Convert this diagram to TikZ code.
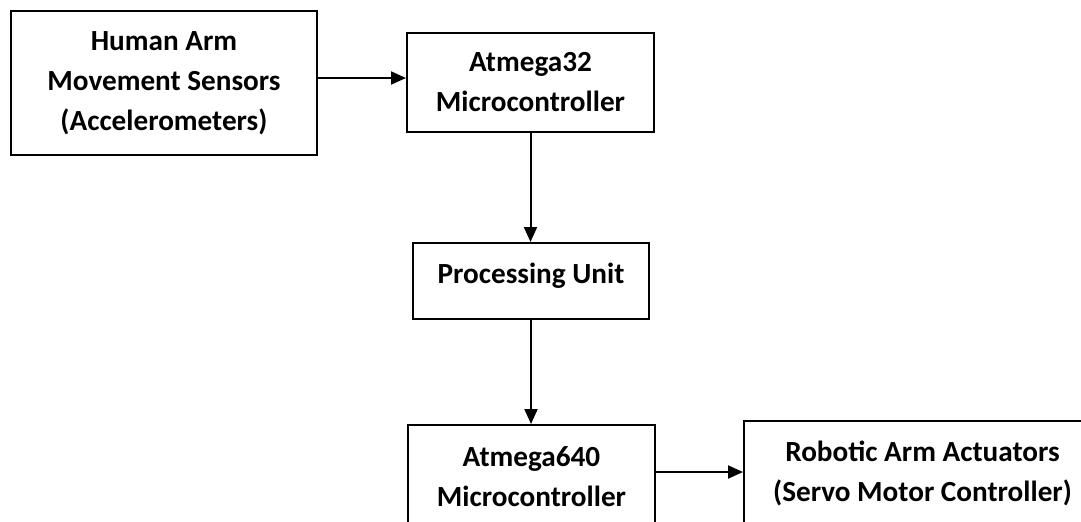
\documentclass[tikz,border=0pt]{standalone}
\usepackage{fontspec}
\setmainfont{Carlito}
\usetikzlibrary{arrows.meta,positioning,calc}

\begin{document}
\begin{tikzpicture}[x=0.5pt,y=-0.5pt,
    blk/.style={draw,line width=1pt,anchor=north west,align=center,
      font=\fontsize{14.6}{20}\selectfont\bfseries,inner sep=0pt},
    arr/.style={-{Triangle[length=7.5pt,width=6.5pt]},line width=1pt}]
     \useasboundingbox (0,0) rectangle (1081,521);
     \clip (0,0) rectangle (1081,521);

     \node[blk,minimum width=153pt,minimum height=72pt] (sens) at (10,10)
        {Human Arm\\Movement Sensors\\(Accelerometers)};
     \node[blk,minimum width=123.5pt,minimum height=49.5pt] (mcu32) at (406,32)
        {Atmega32\\Microcontroller};
     \node[blk,minimum width=118pt,minimum height=38pt,text depth=8pt] (proc) at (412,242)
        {Processing Unit};
     \node[blk,minimum width=123.5pt,minimum height=52pt] (mcu640) at (407,424)
        {Atmega640\\Microcontroller};
     \node[blk,minimum width=178.5pt,minimum height=52pt] (act) at (743,420)
        {Robotic Arm Actuators\\(Servo Motor Controller)};

     \draw[arr] ([yshift=2.5pt]sens.east) -- ([yshift=2.5pt]sens.east -| mcu32.west);
     \draw[arr] (mcu32.south) -- (mcu32.south |- proc.north);
     \draw[arr] (proc.south) -- (proc.south |- mcu640.north);
     \draw[arr] ([yshift=2.5pt]mcu640.east) -- ([yshift=2.5pt]mcu640.east -| act.west);

\end{tikzpicture}
\end{document}
